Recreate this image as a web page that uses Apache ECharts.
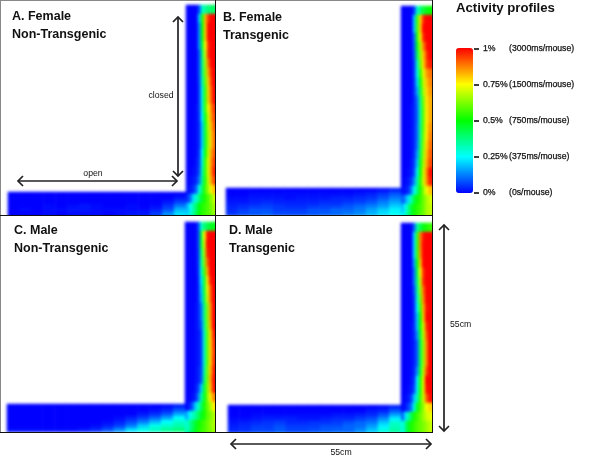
<!DOCTYPE html>
<html>
<head>
<meta charset="utf-8">
<title>Activity profiles</title>
<script src="https://cdn.jsdelivr.net/npm/echarts@6/dist/echarts.min.js"></script>
<style>
html, body { margin: 0; padding: 0; background: #fff; }
#page { position: relative; width: 600px; height: 462px; overflow: hidden; }
.clip { position: absolute; overflow: hidden; }
.heat { width: 240px; height: 240px; filter: blur(1.5px); }
#overlay { position: absolute; left: 0; top: 0; width: 600px; height: 462px; }
</style>
</head>
<body>
<div id="page">
  <div class="clip" id="clipA"><div class="heat" id="heatA"></div></div>
  <div class="clip" id="clipB"><div class="heat" id="heatB"></div></div>
  <div class="clip" id="clipC"><div class="heat" id="heatC"></div></div>
  <div class="clip" id="clipD"><div class="heat" id="heatD"></div></div>
  <div id="overlay"></div>
</div>
<script>
// activity, in hundredths of a percent (closed arm: top to bottom, open arm: top to bottom)
var closedA = [
  [0,0,0,0,8,30,35,38,40,40,40],
  [0,0,0,0,20,52,82,95,100,100,100],
  [0,0,0,0,14,50,80,100,100,100,100],
  [0,0,0,0,14,50,80,100,100,100,100],
  [0,0,0,0,14,46,75,96,100,100,100],
  [0,0,0,0,8,40,70,96,100,100,100],
  [0,0,0,0,8,37,65,89,100,100,100],
  [0,0,0,0,8,37,62,84,97,100,100],
  [0,0,0,0,7,33,58,80,95,100,100],
  [0,0,0,0,6,29,54,79,92,100,100],
  [0,0,0,0,6,29,54,79,91,100,100],
  [0,0,0,1,6,29,54,75,87,95,100],
  [0,0,0,1,5,25,50,71,85,94,95],
  [0,0,0,1,4,21,46,68,82,92,94],
  [0,0,0,1,4,21,46,66,80,90,92],
  [0,0,0,1,4,21,46,66,80,90,92],
  [0,0,0,1,5,25,50,69,84,92,94],
  [0,0,0,2,6,29,54,72,86,95,96],
  [0,0,1,2,8,33,54,72,87,98,100],
  [0,1,2,4,12,36,53,70,84,94,96],
  [1,2,4,10,27,42,56,66,76,82,84],
  [5,10,22,30,38,47,53,58,64,70,72],
  [18,26,33,40,49,53,55,58,62,66,68],
  [20,28,35,42,50,54,56,58,60,64,66]
]
var openA = [
  [0,0,0,0,0,0,0,0,0,0,0,0,0,0,0],
  [0,0,0,0,0,0,0,0,0,0,0,0,0,0,2],
  [0,0,0,0,0,0,0,0,0,0,0,0,0,2,6],
  [0,0,0,1,0,1,2,1,0,0,1,0,1,5,12],
  [0,1,0,1,1,2,2,1,1,1,1,1,3,8,18],
  [0,0,0,1,0,1,1,1,0,1,2,2,6,14,22],
  [0,0,0,1,0,1,1,1,0,1,2,3,7,15,24]
]
var closedB = [
  [0,0,0,0,6,30,38,44,48,50,50],
  [0,0,0,0,20,55,78,96,100,100,100],
  [0,0,0,0,20,56,79,100,100,100,100],
  [0,0,0,0,12,53,74,96,100,100,100],
  [0,0,0,0,10,48,68,86,98,100,100],
  [0,0,0,0,8,41,64,80,93,100,100],
  [0,0,0,0,6,31,60,78,92,97,98],
  [0,0,0,0,6,27,54,72,84,88,90],
  [0,0,0,0,5,22,48,68,80,86,88],
  [0,0,0,0,5,17,42,65,78,84,86],
  [0,0,0,0,4,11,36,60,77,82,84],
  [0,0,0,1,4,10,34,58,76,82,84],
  [0,0,0,1,4,10,34,58,76,82,84],
  [0,0,0,1,4,11,36,58,76,84,86],
  [0,0,0,1,4,11,36,60,76,86,88],
  [0,0,0,1,4,12,38,62,78,88,90],
  [0,0,0,1,5,16,42,64,80,90,92],
  [0,0,0,2,6,20,47,66,82,92,94],
  [0,0,1,2,8,27,50,70,85,98,100],
  [0,1,2,5,14,33,53,70,84,96,98],
  [1,2,4,12,26,38,52,63,74,80,82],
  [8,14,22,32,44,51,55,60,66,70,72],
  [18,26,36,44,51,54,56,60,66,68,70],
  [24,30,38,46,52,55,58,60,65,68,68]
]
var openB = [
  [0,0,0,0,0,0,0,0,0,0,0,0,0,1,3],
  [0,0,1,1,1,1,1,1,1,1,1,2,3,5,8],
  [1,1,2,2,2,1,2,2,2,3,3,4,5,8,12],
  [2,2,3,4,3,3,3,3,4,4,5,6,8,12,16],
  [3,4,5,6,5,4,4,5,6,6,8,10,12,15,20],
  [4,6,8,8,6,6,6,8,8,10,10,12,16,20,24],
  [5,7,8,9,7,7,7,8,9,10,12,14,18,22,26]
]
var closedC = [
  [0,0,0,0,6,30,38,42,46,48,48],
  [0,0,0,0,6,44,75,98,100,100,100],
  [0,0,0,0,6,44,70,100,100,100,100],
  [0,0,0,0,5,38,66,97,100,100,100],
  [0,0,0,0,5,34,62,90,100,100,100],
  [0,0,0,0,4,29,55,83,100,100,100],
  [0,0,0,0,3,23,45,77,97,100,100],
  [0,0,0,0,3,20,44,73,90,100,100],
  [0,0,0,0,3,18,42,70,89,100,100],
  [0,0,0,1,3,12,37,62,84,100,100],
  [0,0,0,1,3,12,37,62,84,100,100],
  [0,0,0,1,3,9,34,60,82,100,100],
  [0,0,0,1,2,6,30,57,78,96,100],
  [0,0,0,1,2,6,30,57,78,94,98],
  [0,0,0,1,2,6,30,57,78,93,97],
  [0,0,0,1,2,6,30,57,78,94,98],
  [0,0,0,1,3,7,33,60,80,96,100],
  [0,0,0,1,3,8,37,60,82,98,100],
  [0,0,0,2,6,20,44,62,80,97,100],
  [0,0,1,3,12,33,47,62,76,86,88],
  [0,3,8,20,30,40,52,60,66,76,78],
  [15,24,30,34,40,47,52,58,62,66,70],
  [28,34,40,45,51,54,56,60,63,66,68],
  [30,36,42,47,52,55,57,60,62,65,66]
]
var openC = [
  [0,0,0,0,0,0,0,0,0,0,0,0,0,1,3],
  [0,0,0,0,0,0,0,0,0,0,0,0,1,3,8],
  [0,0,0,0,0,0,0,0,0,0,0,2,4,8,16],
  [0,0,0,0,0,0,0,0,0,1,3,6,10,16,25],
  [0,0,0,0,0,0,0,0,1,3,7,12,18,25,30],
  [0,0,0,0,0,0,0,1,3,6,12,20,27,30,33],
  [1,1,1,1,1,1,2,4,8,14,22,27,31,35,38]
]
var closedD = [
  [0,0,0,0,10,35,42,48,52,55,55],
  [0,0,0,0,22,55,87,98,100,100,100],
  [0,0,0,0,22,55,87,100,100,100,100],
  [0,0,0,0,22,55,85,100,100,100,100],
  [0,0,0,0,17,50,80,100,100,100,100],
  [0,0,0,0,12,44,75,95,100,100,100],
  [0,0,0,0,12,40,70,96,100,100,100],
  [0,0,0,0,8,35,65,89,100,100,100],
  [0,0,0,0,6,30,60,86,100,100,100],
  [0,0,0,0,5,25,55,82,98,100,100],
  [0,0,0,0,5,20,50,80,100,100,100],
  [0,0,0,1,5,20,50,71,95,100,100],
  [0,0,0,1,4,15,45,68,90,100,100],
  [0,0,0,1,3,10,42,64,86,100,100],
  [0,0,0,1,3,10,42,64,86,100,100],
  [0,0,0,1,3,10,42,64,86,100,100],
  [0,0,0,1,4,15,45,68,92,100,100],
  [0,0,0,2,5,25,52,72,100,100,100],
  [0,0,1,2,8,27,52,72,98,100,100],
  [0,1,2,6,20,33,55,70,90,98,100],
  [0,2,6,12,28,48,57,64,74,78,80],
  [8,22,32,42,52,56,60,65,70,72,74],
  [26,36,46,52,55,58,60,62,65,68,70],
  [26,36,46,52,55,58,60,62,65,68,70]
]
var openD = [
  [0,0,0,0,0,0,0,0,0,0,0,0,0,1,3],
  [0,0,0,0,0,0,0,0,0,0,0,0,2,3,8],
  [0,0,1,1,1,1,1,1,1,2,2,3,4,8,16],
  [1,1,2,3,3,3,2,2,3,4,4,6,8,14,24],
  [2,3,4,5,6,4,4,5,5,6,8,10,12,20,30],
  [3,4,6,6,8,6,6,6,8,8,10,11,16,24,32],
  [4,5,7,7,9,7,7,8,9,10,10,14,20,28,34]
]

var legendTicks = ['0%', '0.25%', '0.5%', '0.75%', '1%']
var legendTimes = ['(0s/mouse)', '(375ms/mouse)', '(750ms/mouse)', '(1500ms/mouse)', '(3000ms/mouse)']
var rainbow = ['#0000ff', '#00ffff', '#00ff00', '#ffff00', '#ff0000']

function indexes (n) {
  var out = []
  for (var i = 0; i < n; i++) out.push(i)
  return out
}

function cells (rows) {
  var out = []
  rows.forEach(function (row, y) {
    row.forEach(function (v, x) { out.push([x, y, v]) })
  })
  return out
}

// one panel: closed arm and open arm are two grids in the same chart
function drawPanel (id, p, closed, open) {
  var clip = document.getElementById('clip' + id)
  clip.style.left = p.x + 'px'
  clip.style.top = p.y + 'px'
  clip.style.width = p.w + 'px'
  clip.style.height = p.h + 'px'
  var chart = echarts.init(document.getElementById('heat' + id), null, {renderer: 'canvas'})
  var grids = [
    {left: p.armX, top: p.armY, width: closed[0].length * 3, height: closed.length * 9},
    {left: p.openX, top: p.openY, width: p.armX - p.openX, height: open.length * 4}
  ]
  chart.setOption({
    animation: false,
    grid: grids,
    xAxis: [
      {type: 'category', gridIndex: 0, show: false, data: indexes(closed[0].length)},
      {type: 'category', gridIndex: 1, show: false, data: indexes(open[0].length)}
    ],
    yAxis: [
      {type: 'category', gridIndex: 0, show: false, inverse: true, data: indexes(closed.length)},
      {type: 'category', gridIndex: 1, show: false, inverse: true, data: indexes(open.length)}
    ],
    visualMap: {show: false, min: 0, max: 100, inRange: {color: rainbow}},
    series: [
      {type: 'heatmap', xAxisIndex: 0, yAxisIndex: 0, data: cells(closed), progressive: 0, silent: true},
      {type: 'heatmap', xAxisIndex: 1, yAxisIndex: 1, data: cells(open), progressive: 0, silent: true}
    ]
  })
}

drawPanel('A', {x: 1, y: 1, w: 214, h: 214, armX: 185, armY: 4, openX: 7, openY: 191}, closedA, openA)
drawPanel('B', {x: 216, y: 1, w: 216, h: 214, armX: 185, armY: 5, openX: 10, openY: 187}, closedB, openB)
drawPanel('C', {x: 1, y: 216, w: 214, h: 216, armX: 184, armY: 6, openX: 6, openY: 188}, closedC, openC)
drawPanel('D', {x: 216, y: 216, w: 216, h: 216, armX: 185, armY: 7, openX: 12, openY: 189}, closedD, openD)

function arrow (x1, y1, x2, y2) {
  var head = 5
  var dx = x2 > x1 ? 1 : x2 < x1 ? -1 : 0
  var dy = y2 > y1 ? 1 : y2 < y1 ? -1 : 0
  function chevron (x, y, s) {
    return {
      type: 'polyline',
      shape: {points: [[x - s * dx * head + dy * head, y - s * dy * head + dx * head], [x, y], [x - s * dx * head - dy * head, y - s * dy * head - dx * head]]},
      style: {stroke: '#222', lineWidth: 1.7, fill: null}
    }
  }
  return [
    {type: 'line', shape: {x1: x1, y1: y1, x2: x2, y2: y2}, style: {stroke: '#222', lineWidth: 1.7}},
    chevron(x1, y1, -1),
    chevron(x2, y2, 1)
  ]
}

function label (text, x, y, font, align) {
  return {
    type: 'text',
    x: x,
    y: y,
    style: {text: text, font: font, fill: '#111', textAlign: align || 'left', textVerticalAlign: 'middle'}
  }
}

function border (x1, y1, x2, y2, color) {
  return {type: 'line', shape: {x1: x1, y1: y1, x2: x2, y2: y2}, style: {stroke: color, lineWidth: 1}}
}

var titleFont = 'bold 12.5px "Liberation Sans", Arial, sans-serif'
var smallFont = '8.7px "Liberation Sans", Arial, sans-serif'

var overlayItems = [].concat(
  border(0, 0.5, 432, 0.5, '#888'),
  border(0.5, 0, 0.5, 432, '#888'),
  border(215.5, 0, 215.5, 432, '#111'),
  border(432.5, 0, 432.5, 433, '#111'),
  border(0, 215.5, 432, 215.5, '#111'),
  border(0, 432.5, 433, 432.5, '#111'),
  arrow(178, 17, 178, 176),
  arrow(18, 181, 177, 181),
  arrow(231, 444, 431, 444),
  arrow(444, 225, 444, 431),
  label('A. Female', 12, 17, titleFont),
  label('Non-Transgenic', 12, 35, titleFont),
  label('B. Female', 223, 18, titleFont),
  label('Transgenic', 223, 36, titleFont),
  label('C. Male', 14, 231, titleFont),
  label('Non-Transgenic', 14, 249, titleFont),
  label('D. Male', 229, 231, titleFont),
  label('Transgenic', 229, 249, titleFont),
  label('closed', 161, 96, smallFont, 'center'),
  label('open', 93, 174, smallFont, 'center'),
  label('55cm', 341, 453, smallFont, 'center'),
  label('55cm', 450, 325, smallFont),
  label('Activity profiles', 456, 8, 'bold 13.2px "Liberation Sans", Arial, sans-serif')
)

var overlay = echarts.init(document.getElementById('overlay'))
overlay.setOption({
  animation: false,
  grid: {left: 474, top: 49, width: 1, height: 144},
  xAxis: {type: 'value', show: false},
  yAxis: {
    type: 'category',
    position: 'right',
    boundaryGap: false,
    data: legendTicks,
    axisLine: {show: false},
    axisTick: {length: 5, lineStyle: {color: '#000', width: 1.5}},
    axisLabel: {
      margin: 8,
      align: 'left',
      formatter: function (v, i) { return '{p|' + v + '}{t|' + legendTimes[i] + '}' },
      rich: {
        p: {width: 26, fontSize: 8.7, fontFamily: 'Liberation Sans', color: '#111', textBorderColor: '#111', textBorderWidth: 0.25},
        t: {fontSize: 8.7, fontFamily: 'Liberation Sans', color: '#111', textBorderColor: '#111', textBorderWidth: 0.25}
      }
    }
  },
  visualMap: {
    type: 'continuous',
    seriesIndex: [],
    min: 0,
    max: 100,
    left: 456,
    top: 48,
    padding: 0,
    itemWidth: 17,
    itemHeight: 145,
    hoverLink: false,
    calculable: false,
    inRange: {color: rainbow}
  },
  graphic: overlayItems
})
</script>
</body>
</html>
